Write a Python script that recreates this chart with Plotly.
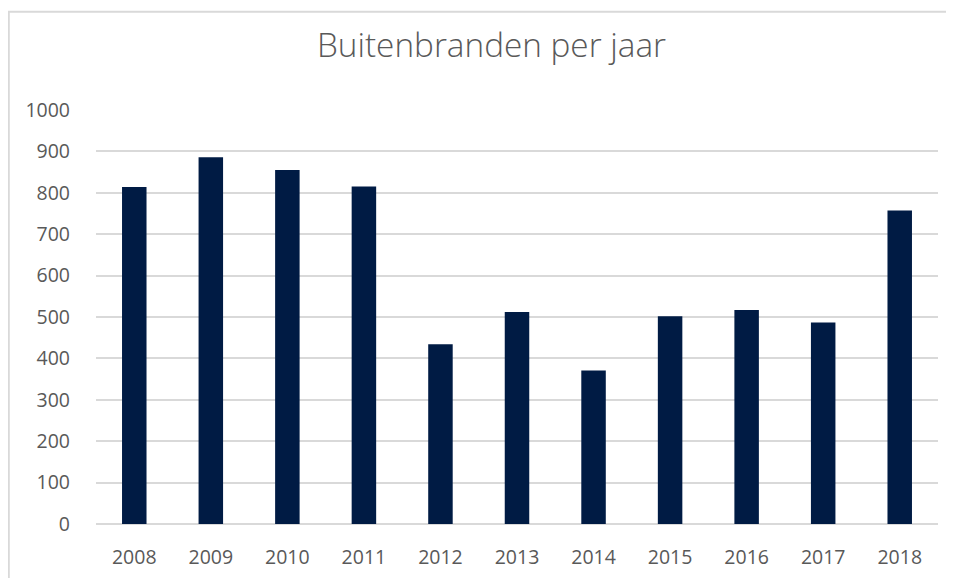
import plotly.graph_objects as go

years = ["2008", "2009", "2010", "2011", "2012", "2013", "2014", "2015", "2016", "2017", "2018"]
fires = [814, 886, 855, 815, 434, 512, 371, 502, 517, 487, 757]
y_ticks = [0, 100, 200, 300, 400, 500, 600, 700, 800, 900, 1000]

fig = go.Figure(go.Bar(x=years, y=fires, marker=dict(color="#001b44", line=dict(width=0))))

fig.update_layout(
    width=954, height=578,
    margin=dict(l=88, r=24, t=102, b=62, pad=0),
    paper_bgcolor="white", plot_bgcolor="white",
    bargap=0.68,
    showlegend=False,
    title=dict(text="Buitenbranden per jaar", x=0.5068, xanchor="center", y=0.936, yanchor="middle",
               font=dict(family="Open Sans", size=33.3, color="#595959", weight=300)),
    font=dict(family="Open Sans", size=19.5, color="#595959"),
    xaxis=dict(type="category", showgrid=False, showline=False, ticks="", ticklabelstandoff=19,
               tickfont=dict(size=19.5, color="#595959")),
    yaxis=dict(range=[0, 1000], tickvals=y_ticks, showgrid=True, gridcolor="#d9d9d9", gridwidth=1.5,
               zeroline=True, zerolinecolor="#d9d9d9", zerolinewidth=1.5, ticks="", ticklabelstandoff=25,
               tickfont=dict(size=19.5, color="#595959")),
    shapes=[dict(type="rect", xref="paper", yref="paper", x0=-0.1036, x1=1.1, y0=-0.3, y1=1.2376,
                 line=dict(color="#d9d9d9", width=2), fillcolor="rgba(0,0,0,0)", layer="below")],
)

fig.write_html("out.html")
